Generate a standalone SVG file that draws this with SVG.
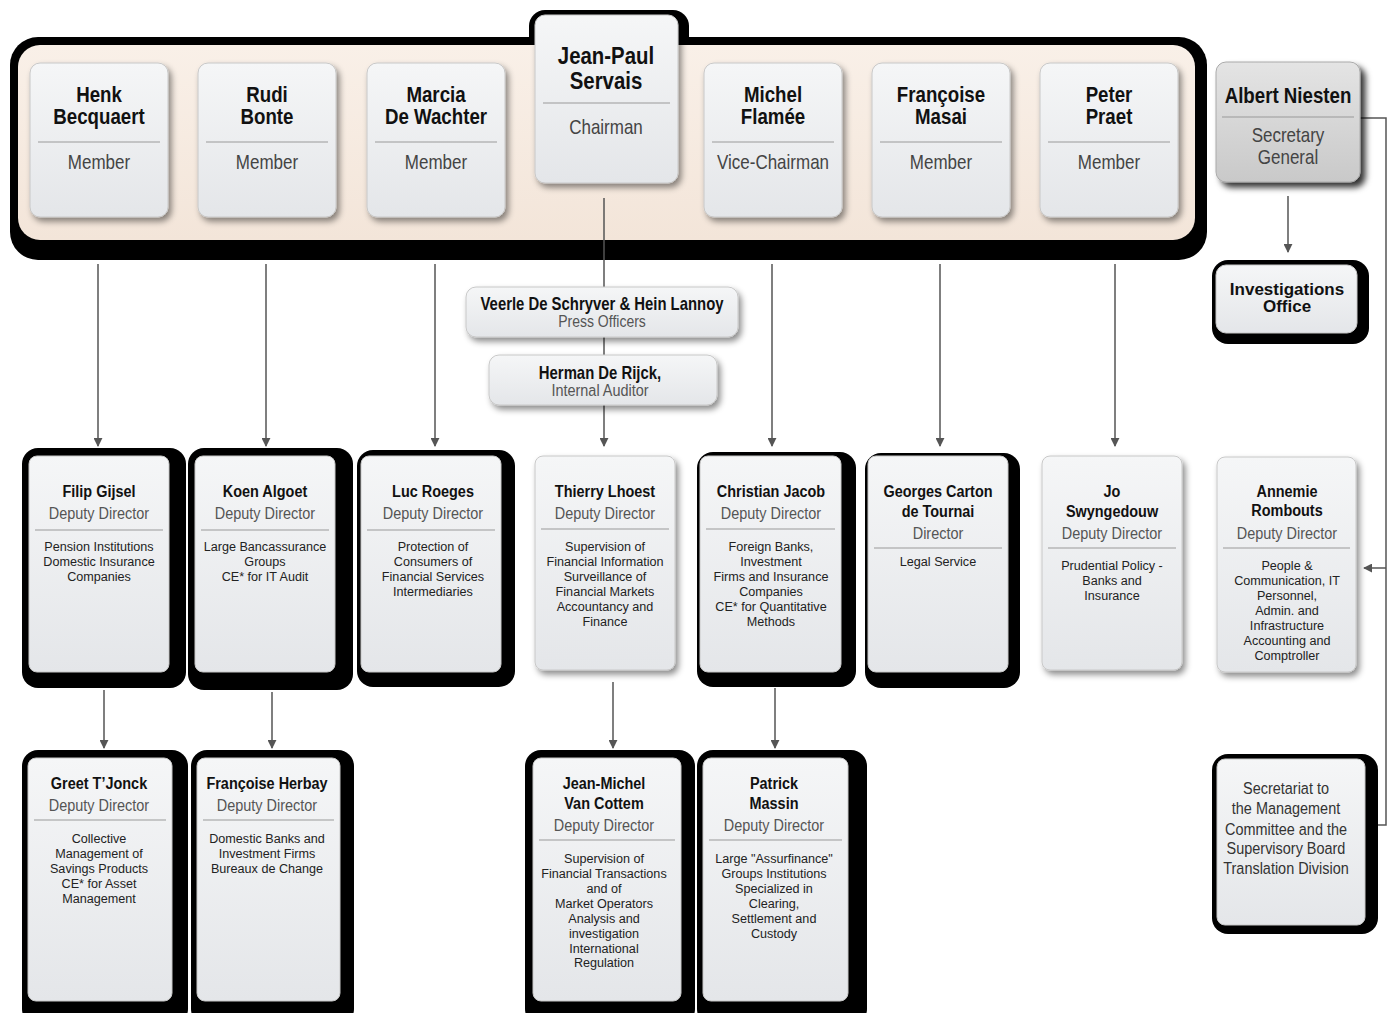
<svg xmlns="http://www.w3.org/2000/svg" width="1390" height="1013" viewBox="0 0 1390 1013">
<defs>
<linearGradient id="gBox" x1="0" y1="0" x2="0" y2="1">
<stop offset="0" stop-color="#f5f6f7"/><stop offset="1" stop-color="#e4e6e9"/>
</linearGradient>
<linearGradient id="gGray" x1="0" y1="0" x2="0" y2="1">
<stop offset="0" stop-color="#e4e4e4"/><stop offset="1" stop-color="#c9c9c9"/>
</linearGradient>
<linearGradient id="gBeige" x1="0" y1="0" x2="0" y2="1">
<stop offset="0" stop-color="#f9f0e8"/><stop offset="1" stop-color="#f3e5d9"/>
</linearGradient>
<filter id="sh" x="-20%" y="-20%" width="150%" height="150%">
<feDropShadow dx="3" dy="4" stdDeviation="3" flood-color="#000" flood-opacity="0.45"/>
</filter>
<filter id="shD" x="-20%" y="-20%" width="150%" height="150%">
<feDropShadow dx="5" dy="5" stdDeviation="3" flood-color="#000" flood-opacity="0.8"/>
</filter>
<marker id="ar" viewBox="0 0 10 10" refX="9" refY="5" markerWidth="9" markerHeight="9" markerUnits="userSpaceOnUse" orient="auto">
<path d="M0,0 L10,5 L0,10 z" fill="#555"/>
</marker>
<style>
text{font-family:"Liberation Sans",Arial,sans-serif;text-anchor:middle}
.box{fill:url(#gBox);stroke:#c8c8c8;stroke-width:1}
.blk{fill:#000}
.dv{stroke:#9a9a9a;stroke-width:1.2}
.tn{font-size:22px;font-weight:bold;fill:#111}
.tm{font-size:20px;fill:#444}
.nm{font-size:17px;font-weight:bold;fill:#111}
.tt{font-size:17px;fill:#555}
.ds{font-size:13.5px;fill:#222}
.sc{font-size:17px;fill:#333}
.cn{stroke:#555;stroke-width:1.5;fill:none}
</style>
</defs>

<!-- Board container -->
<g id="board">
<rect class="blk" x="529" y="10" width="160" height="70" rx="16"/>
<rect class="blk" x="10" y="37" width="1197" height="223" rx="28"/>
<rect x="18" y="45" width="1177" height="195" rx="22" fill="url(#gBeige)"/>
</g>

<!-- connectors -->
<g id="connectors">
<line class="cn" x1="98" y1="264" x2="98" y2="446" marker-end="url(#ar)"/>
<line class="cn" x1="266" y1="264" x2="266" y2="446" marker-end="url(#ar)"/>
<line class="cn" x1="435" y1="264" x2="435" y2="446" marker-end="url(#ar)"/>
<line class="cn" x1="772" y1="264" x2="772" y2="446" marker-end="url(#ar)"/>
<line class="cn" x1="940" y1="264" x2="940" y2="446" marker-end="url(#ar)"/>
<line class="cn" x1="1115" y1="264" x2="1115" y2="446" marker-end="url(#ar)"/>
<line class="cn" x1="604" y1="198" x2="604" y2="446" marker-end="url(#ar)"/>
<line class="cn" x1="1288" y1="196" x2="1288" y2="252" marker-end="url(#ar)"/>
<polyline class="cn" points="1360,118 1386,118 1386,825 1366,825" marker-end="url(#ar)"/>
<line class="cn" x1="1386" y1="568" x2="1364" y2="568" marker-end="url(#ar)"/>
<line class="cn" x1="104" y1="690" x2="104" y2="748" marker-end="url(#ar)"/>
<line class="cn" x1="272" y1="692" x2="272" y2="748" marker-end="url(#ar)"/>
<line class="cn" x1="613" y1="682" x2="613" y2="748" marker-end="url(#ar)"/>
<line class="cn" x1="775" y1="688" x2="775" y2="748" marker-end="url(#ar)"/>
</g>

<!-- Top row -->
<g id="henk">
<rect class="box" x="30" y="63" width="138" height="154" rx="10" filter="url(#sh)"/>
<line class="dv" x1="38" y1="142" x2="160" y2="142"/>
<g transform="translate(99 0) scale(0.85 1)">
<text class="tn" y="102">Henk</text><text class="tn" y="124">Becquaert</text><text class="tm" y="169">Member</text>
</g>
</g>
<g id="rudi">
<rect class="box" x="198" y="63" width="138" height="154" rx="10" filter="url(#sh)"/>
<line class="dv" x1="206" y1="142" x2="328" y2="142"/>
<g transform="translate(267 0) scale(0.85 1)">
<text class="tn" y="102">Rudi</text><text class="tn" y="124">Bonte</text><text class="tm" y="169">Member</text>
</g>
</g>
<g id="marcia">
<rect class="box" x="367" y="63" width="138" height="154" rx="10" filter="url(#sh)"/>
<line class="dv" x1="375" y1="142" x2="497" y2="142"/>
<g transform="translate(436 0) scale(0.85 1)">
<text class="tn" y="102">Marcia</text><text class="tn" y="124">De Wachter</text><text class="tm" y="169">Member</text>
</g>
</g>
<g id="chairman">
<rect class="box" x="535" y="15" width="143" height="168" rx="10" filter="url(#sh)"/>
<line class="dv" x1="543" y1="103" x2="670" y2="103"/>
<g transform="translate(606 0) scale(0.85 1)">
<text class="tn" y="64" style="font-size:24px">Jean-Paul</text><text class="tn" y="89" style="font-size:24px">Servais</text><text class="tm" y="134">Chairman</text>
</g>
</g>
<g id="michel">
<rect class="box" x="704" y="63" width="138" height="154" rx="10" filter="url(#sh)"/>
<line class="dv" x1="712" y1="142" x2="834" y2="142"/>
<g transform="translate(773 0) scale(0.85 1)">
<text class="tn" y="102">Michel</text><text class="tn" y="124">Flamée</text><text class="tm" y="169">Vice-Chairman</text>
</g>
</g>
<g id="francoise-masai">
<rect class="box" x="872" y="63" width="138" height="154" rx="10" filter="url(#sh)"/>
<line class="dv" x1="880" y1="142" x2="1002" y2="142"/>
<g transform="translate(941 0) scale(0.85 1)">
<text class="tn" y="102">Françoise</text><text class="tn" y="124">Masai</text><text class="tm" y="169">Member</text>
</g>
</g>
<g id="peter">
<rect class="box" x="1040" y="63" width="138" height="154" rx="10" filter="url(#sh)"/>
<line class="dv" x1="1048" y1="142" x2="1170" y2="142"/>
<g transform="translate(1109 0) scale(0.85 1)">
<text class="tn" y="102">Peter</text><text class="tn" y="124">Praet</text><text class="tm" y="169">Member</text>
</g>
</g>
<g id="albert">
<rect x="1216" y="62" width="144" height="120" rx="10" fill="url(#gGray)" stroke="#aaa" filter="url(#shD)"/>
<line class="dv" x1="1222" y1="117" x2="1354" y2="117" stroke="#888"/>
<g transform="translate(1288 0) scale(0.85 1)">
<text class="tn" y="103">Albert Niesten</text><text class="tm" y="142">Secretary</text><text class="tm" y="164">General</text>
</g>
</g>
<g id="investigations">
<rect class="blk" x="1212" y="260" width="157" height="84" rx="16"/>
<rect class="box" x="1216" y="265" width="141" height="68" rx="10"/>
<text class="tn" x="1287" y="295" style="font-size:17px">Investigations</text><text class="tn" x="1287" y="312" style="font-size:17px">Office</text>
</g>

<!-- Staff boxes -->
<g id="press">
<rect class="box" x="466" y="287" width="272" height="50" rx="10" filter="url(#sh)"/>
<g transform="translate(602 0) scale(0.85 1)">
<text class="nm" y="310" style="font-size:17.5px">Veerle De Schryver &amp; Hein Lannoy</text><text class="tt" y="327" style="font-size:16.5px">Press Officers</text>
</g>
</g>
<g id="auditor">
<rect class="box" x="489" y="355" width="228" height="50" rx="10" filter="url(#sh)"/>
<g transform="translate(600 0) scale(0.85 1)">
<text class="nm" y="379" style="font-size:17.5px">Herman De Rijck,</text><text class="tt" y="396">Internal Auditor</text>
</g>
</g>

<!-- Row 2 -->
<g id="filip">
<rect class="blk" x="22" y="448" width="164" height="240" rx="16"/>
<rect class="box" x="29" y="456" width="140" height="216" rx="8"/>
<line class="dv" x1="35" y1="530" x2="163" y2="530"/>
<g transform="translate(99 0) scale(0.85 1)">
<text class="nm" y="497">Filip Gijsel</text><text class="tt" y="519">Deputy Director</text>
<g transform="scale(1.1 1)"><text class="ds" y="551">Pension Institutions</text><text class="ds" y="566">Domestic Insurance</text><text class="ds" y="581">Companies</text></g>
</g>
</g>
<g id="koen">
<rect class="blk" x="188" y="448" width="165" height="242" rx="16"/>
<rect class="box" x="195" y="456" width="140" height="216" rx="8"/>
<line class="dv" x1="201" y1="530" x2="329" y2="530"/>
<g transform="translate(265 0) scale(0.85 1)">
<text class="nm" y="497">Koen Algoet</text><text class="tt" y="519">Deputy Director</text>
<g transform="scale(1.1 1)"><text class="ds" y="551">Large Bancassurance</text><text class="ds" y="566">Groups</text><text class="ds" y="581">CE* for IT Audit</text></g>
</g>
</g>
<g id="luc">
<rect class="blk" x="357" y="450" width="158" height="237" rx="16"/>
<rect class="box" x="361" y="456" width="140" height="216" rx="8"/>
<line class="dv" x1="367" y1="530" x2="495" y2="530"/>
<g transform="translate(433 0) scale(0.85 1)">
<text class="nm" y="497">Luc Roeges</text><text class="tt" y="519">Deputy Director</text>
<g transform="scale(1.1 1)"><text class="ds" y="551">Protection of</text><text class="ds" y="566">Consumers of</text><text class="ds" y="581">Financial Services</text><text class="ds" y="596">Intermediaries</text></g>
</g>
</g>
<g id="thierry">
<rect class="box" x="535" y="456" width="140" height="214" rx="8" filter="url(#sh)"/>
<line class="dv" x1="541" y1="529" x2="669" y2="529"/>
<g transform="translate(605 0) scale(0.85 1)">
<text class="nm" y="497">Thierry Lhoest</text><text class="tt" y="519">Deputy Director</text>
<g transform="scale(1.1 1)"><text class="ds" y="551">Supervision of</text><text class="ds" y="566">Financial Information</text><text class="ds" y="581">Surveillance of</text><text class="ds" y="596">Financial Markets</text><text class="ds" y="611">Accountancy and</text><text class="ds" y="626">Finance</text></g>
</g>
</g>
<g id="christian">
<rect class="blk" x="697" y="452" width="159" height="235" rx="16"/>
<rect class="box" x="700" y="456" width="141" height="216" rx="8"/>
<line class="dv" x1="706" y1="529" x2="835" y2="529"/>
<g transform="translate(771 0) scale(0.85 1)">
<text class="nm" y="497">Christian Jacob</text><text class="tt" y="519">Deputy Director</text>
<g transform="scale(1.1 1)"><text class="ds" y="551">Foreign Banks,</text><text class="ds" y="566">Investment</text><text class="ds" y="581">Firms and Insurance</text><text class="ds" y="596">Companies</text><text class="ds" y="611">CE* for Quantitative</text><text class="ds" y="626">Methods</text></g>
</g>
</g>
<g id="georges">
<rect class="blk" x="865" y="453" width="155" height="235" rx="16"/>
<rect class="box" x="868" y="456" width="140" height="216" rx="8"/>
<line class="dv" x1="874" y1="548" x2="1002" y2="548"/>
<g transform="translate(938 0) scale(0.85 1)">
<text class="nm" y="497">Georges Carton</text><text class="nm" y="517">de Tournai</text><text class="tt" y="539">Director</text>
<g transform="scale(1.1 1)"><text class="ds" y="566">Legal Service</text></g>
</g>
</g>
<g id="jo">
<rect class="box" x="1042" y="456" width="140" height="214" rx="8" filter="url(#sh)"/>
<line class="dv" x1="1048" y1="548" x2="1176" y2="548"/>
<g transform="translate(1112 0) scale(0.85 1)">
<text class="nm" y="497">Jo</text><text class="nm" y="517">Swyngedouw</text><text class="tt" y="539">Deputy Director</text>
<g transform="scale(1.1 1)"><text class="ds" y="570">Prudential Policy -</text><text class="ds" y="585">Banks and</text><text class="ds" y="600">Insurance</text></g>
</g>
</g>
<g id="annemie">
<rect class="box" x="1217" y="457" width="139" height="215" rx="8" filter="url(#sh)"/>
<line class="dv" x1="1223" y1="548" x2="1350" y2="548"/>
<g transform="translate(1287 0) scale(0.85 1)">
<text class="nm" y="497">Annemie</text><text class="nm" y="516">Rombouts</text><text class="tt" y="539">Deputy Director</text>
<g transform="scale(1.1 1)"><text class="ds" y="570">People &amp;</text><text class="ds" y="585">Communication, IT</text><text class="ds" y="600">Personnel,</text><text class="ds" y="615">Admin. and</text><text class="ds" y="630">Infrastructure</text><text class="ds" y="645">Accounting and</text><text class="ds" y="660">Comptroller</text></g>
</g>
</g>

<!-- Row 3 -->
<g id="greet">
<rect class="blk" x="22" y="750" width="166" height="275" rx="16"/>
<rect class="box" x="28" y="758" width="144" height="243" rx="8"/>
<line class="dv" x1="34" y1="820" x2="166" y2="820"/>
<g transform="translate(99 0) scale(0.85 1)">
<text class="nm" y="789">Greet T’Jonck</text><text class="tt" y="811">Deputy Director</text>
<g transform="scale(1.1 1)"><text class="ds" y="843">Collective</text><text class="ds" y="858">Management of</text><text class="ds" y="873">Savings Products</text><text class="ds" y="888">CE* for Asset</text><text class="ds" y="903">Management</text></g>
</g>
</g>
<g id="herbay">
<rect class="blk" x="191" y="750" width="163" height="275" rx="16"/>
<rect class="box" x="197" y="758" width="143" height="243" rx="8"/>
<line class="dv" x1="203" y1="820" x2="334" y2="820"/>
<g transform="translate(267 0) scale(0.85 1)">
<text class="nm" y="789">Françoise Herbay</text><text class="tt" y="811">Deputy Director</text>
<g transform="scale(1.1 1)"><text class="ds" y="843">Domestic Banks and</text><text class="ds" y="858">Investment Firms</text><text class="ds" y="873">Bureaux de Change</text></g>
</g>
</g>
<g id="jean-michel">
<rect class="blk" x="525" y="750" width="170" height="275" rx="16"/>
<rect class="box" x="533" y="758" width="148" height="243" rx="8"/>
<line class="dv" x1="539" y1="840" x2="675" y2="840"/>
<g transform="translate(604 0) scale(0.85 1)">
<text class="nm" y="789">Jean-Michel</text><text class="nm" y="809">Van Cottem</text><text class="tt" y="831">Deputy Director</text>
<g transform="scale(1.1 1)"><text class="ds" y="863">Supervision of</text><text class="ds" y="878">Financial Transactions</text><text class="ds" y="893">and of</text><text class="ds" y="908">Market Operators</text><text class="ds" y="923">Analysis and</text><text class="ds" y="938">investigation</text><text class="ds" y="953">International</text><text class="ds" y="967">Regulation</text></g>
</g>
</g>
<g id="patrick">
<rect class="blk" x="697" y="750" width="170" height="275" rx="16"/>
<rect class="box" x="703" y="758" width="145" height="243" rx="8"/>
<line class="dv" x1="709" y1="840" x2="842" y2="840"/>
<g transform="translate(774 0) scale(0.85 1)">
<text class="nm" y="789">Patrick</text><text class="nm" y="809">Massin</text><text class="tt" y="831">Deputy Director</text>
<g transform="scale(1.1 1)"><text class="ds" y="863">Large "Assurfinance"</text><text class="ds" y="878">Groups Institutions</text><text class="ds" y="893">Specialized in</text><text class="ds" y="908">Clearing,</text><text class="ds" y="923">Settlement and</text><text class="ds" y="938">Custody</text></g>
</g>
</g>
<g id="secretariat">
<rect class="blk" x="1212" y="754" width="166" height="180" rx="16"/>
<rect class="box" x="1217" y="759" width="148" height="166" rx="8"/>
<g transform="translate(1286 0) scale(0.85 1)">
<text class="sc" y="794">Secretariat to</text><text class="sc" y="814">the Management</text><text class="sc" y="835">Committee and the</text><text class="sc" y="854">Supervisory Board</text><text class="sc" y="874">Translation Division</text>
</g>
</g>
</svg>
